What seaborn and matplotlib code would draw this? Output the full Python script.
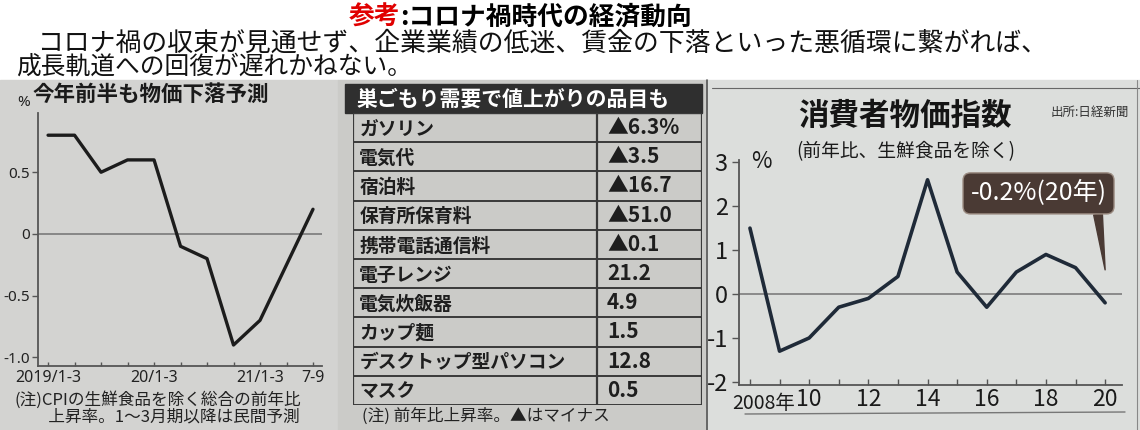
import numpy as np
import pandas as pd
import matplotlib
matplotlib.use("Agg")
import matplotlib.pyplot as plt
import matplotlib.transforms as mtrans
import seaborn as sns
from matplotlib.patches import Rectangle
from matplotlib.lines import Line2D

# ---------------- data ----------------
quarters = ['2019/1-3', '4-6', '7-9', '10-12', '20/1-3', '4-6', '7-9', '10-12',
            '21/1-3', '4-6', '7-9']
q_tick_labels = ['2019/1-3', '', '', '', '20/1-3', '', '', '', '21/1-3', '', '7-9']
cpi_quarterly = [0.8, 0.8, 0.5, 0.6, 0.6, -0.1, -0.2, -0.9, -0.7, -0.25, 0.2]
q_yticks = [-1.0, -0.5, 0, 0.5]
q_ytick_labels = ['-1.0', '-0.5', '0', '0.5']

table_title = '巣ごもり需要で値上がりの品目も'
items = ['ガソリン', '電気代', '宿泊料', '保育所保育料', '携帯電話通信料',
         '電子レンジ', '電気炊飯器', 'カップ麺', 'デスクトップ型パソコン', 'マスク']
item_changes = ['▲6.3%', '▲3.5', '▲16.7', '▲51.0', '▲0.1',
                '21.2', '4.9', '1.5', '12.8', '0.5']

years = list(range(2008, 2021))
cpi_annual = [1.5, -1.3, -1.0, -0.3, -0.1, 0.4, 2.6, 0.5, -0.3, 0.5, 0.9, 0.6, -0.2]
year_tick_labels = ['2008年', '', '10', '', '12', '', '14', '', '16', '', '18', '', '20']
annual_yticks = [-2, -1, 0, 1, 2, 3]

# ---------------- style ----------------
sns.set_theme(style='white')
JP = ['Noto Sans CJK JP', 'DejaVu Sans']
NARROW = ['Liberation Sans Narrow', 'Noto Sans CJK JP', 'DejaVu Sans']
plt.rcParams['font.family'] = JP

W, H = 1140, 430
fig = plt.figure(figsize=(W / 100, H / 100), dpi=100)
fig.patch.set_facecolor('white')


def fx(x):
    return x / W


def fy(y):
    return 1 - y / H


def frect(x0, y0, x1, y1, **kw):
    r = Rectangle((fx(x0), fy(y1)), (x1 - x0) / W, (y1 - y0) / H,
                  transform=fig.transFigure, zorder=-2, **kw)
    fig.add_artist(r)


def fline(x0, y0, x1, y1, **kw):
    fig.add_artist(Line2D([fx(x0), fx(x1)], [fy(y0), fy(y1)],
                          transform=fig.transFigure, zorder=-1, **kw))


def ftext(x, y, s, **kw):
    return fig.text(fx(x), fy(y), s, **kw)


# panel backgrounds
frect(0, 80, 338, 430, color='#d3d3d1')
frect(338, 80, 708, 430, color='#cbcbc8')
frect(708, 80, 1140, 430, color='#dcdedc')
fline(707, 80, 707, 430, color='#555555', lw=1.2)
fline(712, 88, 1140, 88, color='#666666', lw=0.8)
fline(745, 414, 1125, 412, color='#777777', lw=1.0)
fline(1137, 80, 1137, 430, color='#888888', lw=0.8)

# ---------------- header text ----------------
ftext(400, 17, '参考', color='#e00000', fontsize=18.5, fontweight='bold',
      ha='right', va='center')
ftext(400, 17, ':コロナ禍時代の経済動向', color='black', fontsize=18.5,
      fontweight='bold', ha='left', va='center')
ftext(12, 43, '\u3000コロナ禍の収束が見通せず、企業業績の低迷、賃金の下落といった悪循環に繋がれば、',
      fontsize=18.6, ha='left', va='center', color='#111111')
ftext(16, 67, '成長軌道への回復が遅れかねない。', fontsize=17.8, ha='left',
      va='center', color='#111111')

# ---------------- panel 1: quarterly CPI ----------------
ax1 = fig.add_axes([fx(38), fy(366), 284 / W, 253 / H])
ax1.set_facecolor('none')
xq = np.arange(len(quarters))
sns.lineplot(x=xq, y=cpi_quarterly, ax=ax1, color='#1c1c1c', lw=2.4)
ax1.axhline(0, color='#7a7a7a', lw=1.2, zorder=0)
ax1.set_xlim(-0.38, 10.34)
ax1.set_ylim(-1.07, 0.98)
ax1.set_xticks(xq)
ax1.set_xticklabels(q_tick_labels, fontsize=11.5, family=['Noto Sans', 'DejaVu Sans'],
                    color='#222222')
ax1.set_yticks(q_yticks)
ax1.set_yticklabels(q_ytick_labels, fontsize=11, family=['Noto Sans', 'DejaVu Sans'],
                    color='#222222')
ax1.tick_params(axis='x', direction='in', length=3, width=1, color='#555555', pad=3,
                bottom=True)
ax1.tick_params(axis='y', direction='out', length=4, width=1, color='#555555', pad=2,
                left=True)
for s in ['top', 'right']:
    ax1.spines[s].set_visible(False)
for s in ['left', 'bottom']:
    ax1.spines[s].set_color('#555555')
    ax1.spines[s].set_linewidth(1.3)
ax1.set_xlabel('')
ax1.set_ylabel('')
ftext(24, 103, '%', fontsize=11, ha='center', va='center', color='#222222',
      family=['Noto Sans', 'DejaVu Sans'])
ftext(33, 94, '今年前半も物価下落予測', fontsize=15.5, fontweight='bold',
      ha='left', va='center', color='#1a1a1a')
ftext(15, 408, '(注)CPIの生鮮食品を除く総合の前年比\n\u3000\u3000上昇率。1～3月期以降は民間予測',
      fontsize=12, ha='left', va='center', color='#222222', linespacing=0.95)

# ---------------- panel 2: table ----------------
frect(345, 84, 702, 113, color='#2f2f2f')
ftext(357, 99, table_title, fontsize=15, fontweight='bold', color='white',
      ha='left', va='center')
axt = fig.add_axes([fx(353), fy(405), 349 / W, 292 / H])
axt.set_facecolor('none')
n = len(items)
axt.set_xlim(0, 1)
axt.set_ylim(n, 0)
axt.axis('off')
divider = 0.699
axt.hlines(np.arange(n + 1), 0, 1, color='#3a3a3a', lw=1.4)
axt.vlines([0, divider, 1], 0, n, color='#3a3a3a', lw=1.6)
for i, (lab, val) in enumerate(zip(items, item_changes)):
    axt.text(0.018, i + 0.55, lab, fontsize=13.5, fontweight='bold',
             color='#1e1e1e', ha='left', va='center')
    axt.text(0.728, i + 0.5, val, fontsize=15, fontweight='bold',
             color='#1e1e1e', ha='left', va='center')
ftext(362, 416, '(注) 前年比上昇率。▲はマイナス', fontsize=12, ha='left',
      va='center', color='#222222')

# ---------------- panel 3: annual CPI ----------------
ax3 = fig.add_axes([fx(739), fy(385), 383 / W, 225 / H])
ax3.set_facecolor('none')
sns.lineplot(x=years, y=cpi_annual, ax=ax3, color='#1f2a38', lw=2.6)
ax3.axhline(0, color='#8a8a8a', lw=1.4, zorder=0)
ax3.set_xlim(2007.63, 2020.57)
ax3.set_ylim(-2.07, 3.05)
ax3.set_xticks(years)
ax3.set_xticklabels(year_tick_labels, fontsize=16.5, family=NARROW, color='#1a1a1a')
ax3.set_yticks(annual_yticks)
ax3.set_yticklabels([str(v) for v in annual_yticks], fontsize=17, family=NARROW,
                    color='#1a1a1a')
ax3.tick_params(axis='x', direction='in', length=4, width=1, color='#555555', pad=2,
                bottom=True)
ax3.tick_params(axis='y', direction='out', length=5, width=1, color='#555555', pad=3,
                left=True)
# first year label sits just right of the "-2" label, a little lower
first_lab = ax3.get_xticklabels()[0]
first_lab.set_ha('left')
first_lab.set_fontsize(14)
first_lab.set_transform(first_lab.get_transform() +
                        mtrans.ScaledTranslation(-0.18, -0.05, fig.dpi_scale_trans))
for s in ['top', 'right']:
    ax3.spines[s].set_visible(False)
for s in ['left', 'bottom']:
    ax3.spines[s].set_color('#555555')
    ax3.spines[s].set_linewidth(1.3)
ax3.set_xlabel('')
ax3.set_ylabel('')
ftext(761, 161, '%', fontsize=16, ha='center', va='center', color='#1a1a1a',
      family=NARROW)
ftext(905, 116, '消費者物価指数', fontsize=22, fontweight='bold', ha='center',
      va='center', color='#151515')
ftext(906, 152, '(前年比、生鮮食品を除く)', fontsize=13.5, ha='center',
      va='center', color='#1a1a1a')
ftext(1090, 112, '出所:日経新聞', fontsize=9, ha='center', va='center',
      color='#333333')

label = f"{cpi_annual[-1]}%({years[-1] % 100}年)"
ax3.annotate(label, xy=(years[-1], cpi_annual[-1] + 0.75), xytext=(2017.75, 2.29),
             ha='center', va='center', color='white', fontsize=18, family=NARROW,
             bbox=dict(boxstyle='round,pad=0.3', fc='#4a3a34', ec='#9a8a80', lw=1),
             arrowprops=dict(arrowstyle='wedge,tail_width=0.35', fc='#4a3a34',
                             ec='#4a3a34', relpos=(0.93, 0.0), shrinkA=0, shrinkB=0))

fig.savefig('out.png', dpi=100, facecolor=fig.get_facecolor())
